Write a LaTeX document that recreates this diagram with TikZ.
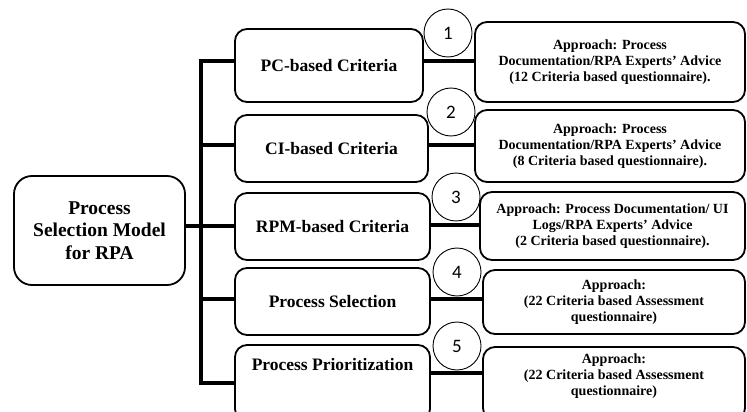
\documentclass[tikz,border=0pt]{standalone}
\usepackage{fontspec}
\setmainfont{Liberation Serif}
\newfontfamily\numfont{Carlito}
\begin{document}
\begin{tikzpicture}[x=1pt,y=-1pt,
 box/.style={draw, line width=1.8pt, rounded corners=12pt, align=center, inner sep=0pt,
   font=\bfseries\fontsize{17.5}{22.5}\selectfont},
 rbox/.style={draw, line width=1.8pt, rounded corners=12pt, align=center, inner sep=0pt,
   font=\bfseries\fontsize{14}{16}\selectfont},
 num/.style={draw, circle, line width=0.9pt, minimum size=48pt, inner sep=0pt,
   font=\numfont\fontsize{19}{19}\selectfont},
 conn/.style={line width=3.2pt, line join=miter}]
\useasboundingbox (0,0) rectangle (747,412);

% left box
\node[box, minimum width=171pt, minimum height=109pt, rounded corners=18pt,
  font=\bfseries\fontsize{19.5}{22.5}\selectfont] (main) at (99.5,230.5)
  {Process\\Selection Model\\for RPA};

% middle boxes
\node[box, minimum width=188pt, minimum height=73pt] (b1) at (329,65.5) {PC-based Criteria};
\node[box, minimum width=193pt, minimum height=67pt] (b2) at (331.5,148.5) {CI-based Criteria};
\node[box, minimum width=195pt, minimum height=67pt] (b3) at (332.5,226.5) {RPM-based Criteria};
\node[box, minimum width=195pt, minimum height=67pt] (b4) at (332.5,301.5) {Process Selection};
\node[box, minimum width=195pt, minimum height=76pt] (b5) at (332.5,383)
  {\begin{tabular}{@{}c@{}}Process Prioritization\\[35pt]\end{tabular}};

% right boxes
\node[rbox, minimum width=270pt, minimum height=80pt] (r1) at (610,62)
  {Approach: Process\\Documentation/RPA Experts' Advice\\(12 Criteria based questionnaire).};
\node[rbox, minimum width=270pt, minimum height=72pt] (r2) at (610,146)
  {Approach: Process\\Documentation/RPA Experts' Advice\\(8 Criteria based questionnaire).};
\node[rbox, minimum width=265pt, minimum height=68pt] (r3) at (612.5,226)
  {Approach: Process Documentation/ UI\\Logs/RPA Experts' Advice\\(2 Criteria based questionnaire).};
\node[rbox, minimum width=262pt, minimum height=64pt] (r4) at (614,302)
  {Approach:\\(22 Criteria based Assessment\\questionnaire)};
\node[rbox, minimum width=262pt, minimum height=73pt] (r5) at (614,383.5)
  {\begin{tabular}{@{}c@{}}Approach:\\(22 Criteria based Assessment\\questionnaire)\\[15pt]\end{tabular}};

% spine coordinates
\coordinate (s1) at (201,61);
\coordinate (s2) at (201,145);
\coordinate (s3) at (201,226);
\coordinate (s4) at (201,299);
\coordinate (s5) at (201,383);
% right connector heights
\coordinate (t1) at (450,61);
\coordinate (t2) at (450,145);
\coordinate (t3) at (450,225);
\coordinate (t4) at (450,299);
\coordinate (t5) at (450,373);

\draw[conn] (s1 -| b1.west) -- (s1) -- (s5) -- (s5 -| b5.west);
\draw[conn] (s2) -- (s2 -| b2.west);
\draw[conn] (s4) -- (s4 -| b4.west);
\draw[conn] (main.east |- s3) -- (s3 -| b3.west);

\draw[conn] (b1.east |- t1) -- (r1.west |- t1);
\draw[conn] (b2.east |- t2) -- (r2.west |- t2);
\draw[conn] (b3.east |- t3) -- (r3.west |- t3);
\draw[conn] (b4.east |- t4) -- (r4.west |- t4);
\draw[conn] (b5.east |- t5) -- (r5.west |- t5);

% numbered circles
\node[num] (c1) at (448,33) {1};
\node[num] (c2) at (451,112) {2};
\node[num] (c3) at (456,197) {3};
\node[num] (c4) at (457,272) {4};
\node[num] (c5) at (457,346) {5};
\end{tikzpicture}
\end{document}
